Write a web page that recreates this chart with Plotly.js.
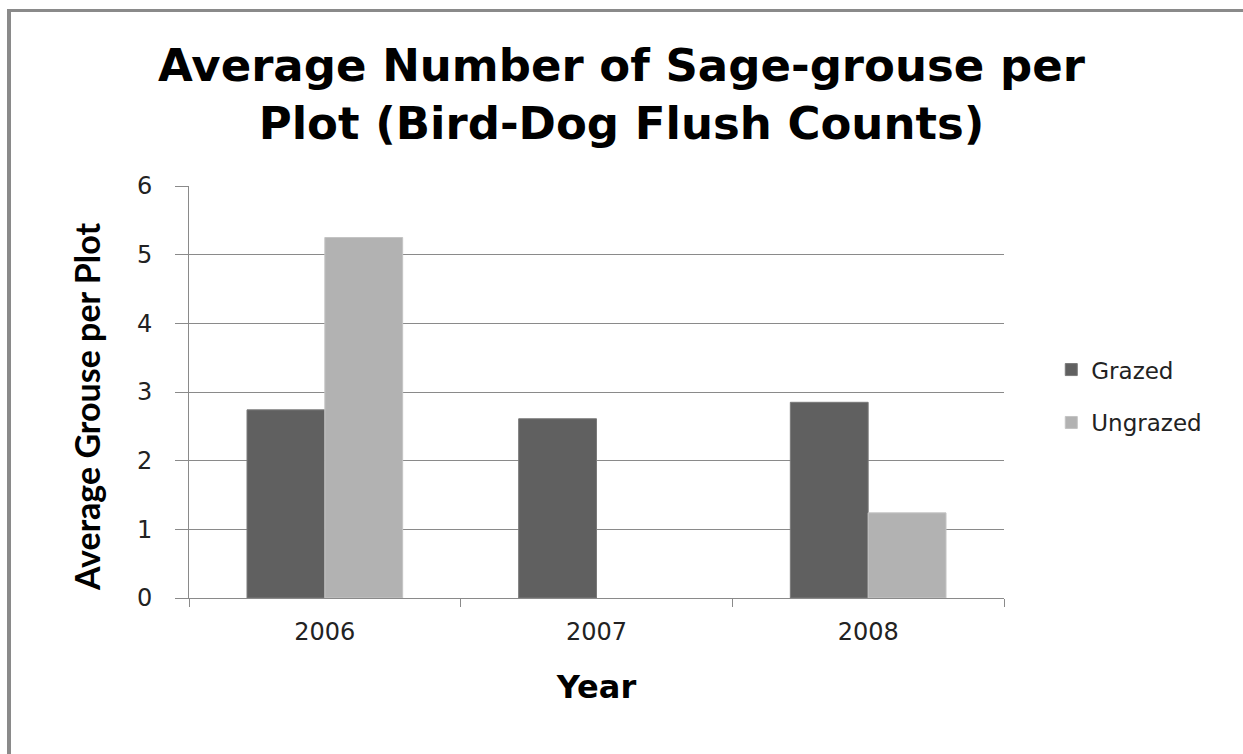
<!DOCTYPE html>
<html>
<head>
<meta charset="utf-8">
<script src="https://cdn.plot.ly/plotly-3.0.1.min.js"></script>
<style>
html,body{margin:0;padding:0;background:#fff;}
#wrap{position:relative;width:1243px;height:754px;overflow:hidden;}
#chart{position:absolute;left:0;top:0;width:1243px;height:754px;}
#frame{position:absolute;left:7px;top:9px;width:1300px;height:800px;border-left:4px solid #8a8a8a;border-top:3px solid #8a8a8a;pointer-events:none;}
</style>
</head>
<body>
<div id="wrap"><div id="chart"></div><div id="frame"></div></div>
<script>
const years = ['2006', '2007', '2008'];
const grazed = [2.74, 2.61, 2.85];
const ungrazed = [5.25, null, 1.24];
const seriesNames = ['Grazed', 'Ungrazed'];
const yTicks = [0, 1, 2, 3, 4, 5, 6];
const yTitle = 'Average Grouse per Plot';

const traces = [
  {type: 'bar', name: seriesNames[0], x: years, y: grazed, legendgroup: 'g',
   marker: {color: '#606060', line: {color: '#7a7a7a', width: 1}}},
  {type: 'bar', name: seriesNames[1], x: years, y: ungrazed, legendgroup: 'u',
   marker: {color: '#b2b2b2', line: {color: '#c4c4c4', width: 1}}}
];

const layout = {
  width: 1243, height: 754,
  paper_bgcolor: '#ffffff', plot_bgcolor: '#ffffff',
  margin: {l: 189, r: 239, t: 186, b: 156},
  font: {family: 'DejaVu Sans', color: '#222'},
  title: {
    text: 'Average Number of Sage-grouse per<br>Plot (Bird-Dog Flush Counts)',
    font: {family: 'DejaVu Sans', size: 45, color: '#000', weight: 'bold'},
    x: 0.5, xanchor: 'center', y: 0.893, yanchor: 'middle'
  },
  barmode: 'group', bargap: 0.427, bargroupgap: 0,
  xaxis: {
    type: 'category', tickson: 'boundaries', ticks: 'outside', ticklen: 8,
    tickcolor: '#8a8a8a', showline: true, linecolor: '#8a8a8a', linewidth: 1,
    showgrid: false, tickfont: {family: 'DejaVu Sans', size: 24, color: '#222'},
    ticklabelstandoff: 12,
    title: {text: 'Year', font: {family: 'DejaVu Sans', size: 32, color: '#000', weight: 'bold'}, standoff: 30}
  },
  yaxis: {
    range: [0, 6], tickvals: yTicks, ticks: 'outside', ticklen: 13, tickcolor: '#8a8a8a',
    showline: true, linecolor: '#8a8a8a', linewidth: 1,
    showgrid: true, gridcolor: '#8a8a8a', gridwidth: 1, zeroline: false,
    tickfont: {family: 'DejaVu Sans', size: 24, color: '#222'},
    ticklabelstandoff: 18
  },
  annotations: [{
    text: yTitle, xref: 'paper', yref: 'paper', x: -0.125, y: 0.4636,
    xanchor: 'center', yanchor: 'middle', textangle: -90, showarrow: false,
    font: {family: 'Lato', size: 34, color: '#000', weight: 'bold'}
  }],
  legend: {
    x: 1.058, xanchor: 'left', y: 0.49, yanchor: 'middle',
    font: {family: 'DejaVu Sans', size: 23, color: '#222'},
    tracegroupgap: 20, itemwidth: 30, bgcolor: 'rgba(0,0,0,0)'
  },
  showlegend: true
};

Plotly.newPlot('chart', traces, layout, {displayModeBar: false, staticPlot: true});
</script>
</body>
</html>
